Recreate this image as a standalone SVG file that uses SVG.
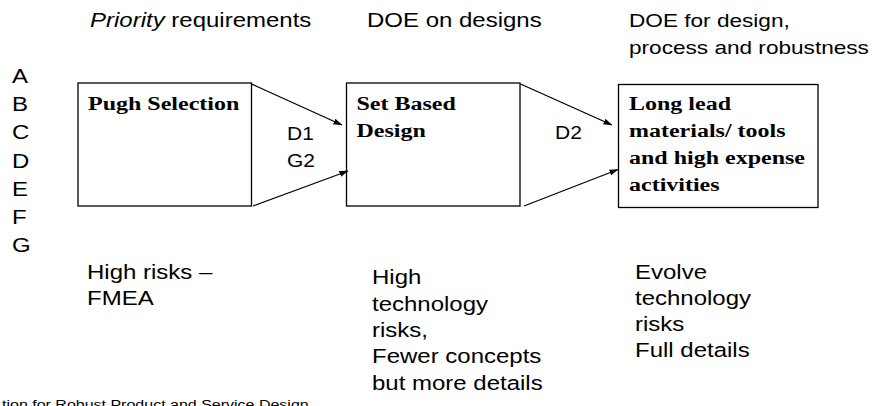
<svg xmlns="http://www.w3.org/2000/svg" width="888" height="406" viewBox="0 0 888 406">
<style>
.t{font-family:"Liberation Sans",Arial,sans-serif;font-size:24px;fill:#000}
.h{font-family:"Liberation Sans",Arial,sans-serif;font-size:22.6px;fill:#000}
.s{font-family:"Liberation Sans",Arial,sans-serif;font-size:21px;fill:#000}
.b{font-family:"Liberation Serif","Times New Roman",serif;font-size:24px;font-weight:bold;fill:#000}
.f{font-family:"Liberation Sans",Arial,sans-serif;font-size:16px;fill:#000}
.box{fill:#fff;stroke:#000;stroke-width:1.3}
.c{stroke:#000;stroke-width:1.3;fill:none;marker-end:url(#ah)}
</style>
<defs>
<marker id="ah" markerWidth="9" markerHeight="7" refX="8.5" refY="3.5" orient="auto" markerUnits="userSpaceOnUse">
<path d="M0,0.5 L9,3.5 L0,6.5 z" fill="#000"/>
</marker>
</defs>
<rect width="888" height="406" fill="#fff"/>
<g id="headers">
<text class="t" transform="translate(90,27) scale(1,0.82)"><tspan font-style="italic">Priority</tspan> requirements</text>
<text class="t" transform="translate(367,27) scale(1,0.82)">DOE on designs</text>
<text class="h" transform="translate(629,27) scale(1,0.85)">DOE for design,</text>
<text class="h" transform="translate(629,54) scale(1,0.85)">process and robustness</text>
</g>
<g id="letters">
<text class="t" transform="translate(12,83) scale(1,0.82)">A</text>
<text class="t" transform="translate(12,111) scale(1,0.82)">B</text>
<text class="t" transform="translate(12,139) scale(1,0.82)">C</text>
<text class="t" transform="translate(12,168) scale(1,0.82)">D</text>
<text class="t" transform="translate(12,196) scale(1,0.82)">E</text>
<text class="t" transform="translate(12,224) scale(1,0.82)">F</text>
<text class="t" transform="translate(12,252) scale(1,0.82)">G</text>
</g>
<g id="node-pugh">
<rect class="box" x="78" y="83" width="173.5" height="123"/>
<text class="b" transform="translate(88,110) scale(1,0.82)">Pugh Selection</text>
</g>
<g id="node-setbased">
<rect class="box" x="346.5" y="83" width="173.5" height="123"/>
<text class="b" transform="translate(356.5,110) scale(1,0.82)">Set Based</text>
<text class="b" transform="translate(356.5,137) scale(1,0.82)">Design</text>
</g>
<g id="node-longlead">
<rect class="box" x="618.5" y="84.5" width="199.5" height="123"/>
<text class="b" transform="translate(629,110) scale(1,0.82)">Long lead</text>
<text class="b" transform="translate(629,137) scale(1,0.82)">materials/ tools</text>
<text class="b" transform="translate(629,164) scale(1,0.82)">and high expense</text>
<text class="b" transform="translate(629,191) scale(1,0.82)">activities</text>
</g>
<g id="connectors">
<line class="c" x1="251.5" y1="84" x2="342" y2="125"/>
<line class="c" x1="253" y1="206" x2="348" y2="171"/>
<line class="c" x1="520.5" y1="84" x2="612" y2="125"/>
<line class="c" x1="524" y1="206" x2="618" y2="169.5"/>
</g>
<g id="labels">
<text class="s" transform="translate(287,140) scale(1,0.85)">D1</text>
<text class="s" transform="translate(287,167) scale(1,0.85)">G2</text>
<text class="s" transform="translate(555,139) scale(1,0.85)">D2</text>
<text class="t" transform="translate(87,279) scale(1,0.82)">High risks –</text>
<text class="t" transform="translate(87,305) scale(1,0.82)">FMEA</text>
<text class="t" transform="translate(372,284) scale(1,0.82)">High</text>
<text class="t" transform="translate(372,311) scale(1,0.82)">technology</text>
<text class="t" transform="translate(372,337) scale(1,0.82)">risks,</text>
<text class="t" transform="translate(372,363) scale(1,0.82)">Fewer concepts</text>
<text class="t" transform="translate(372,390) scale(1,0.82)">but more details</text>
<text class="t" transform="translate(635,279) scale(1,0.82)">Evolve</text>
<text class="t" transform="translate(635,305) scale(1,0.82)">technology</text>
<text class="t" transform="translate(635,331) scale(1,0.82)">risks</text>
<text class="t" transform="translate(635,357) scale(1,0.82)">Full details</text>
<text class="f" transform="translate(2,409) scale(1,0.82)">tion for Robust Product and Service Design</text>
</g>
</svg>
